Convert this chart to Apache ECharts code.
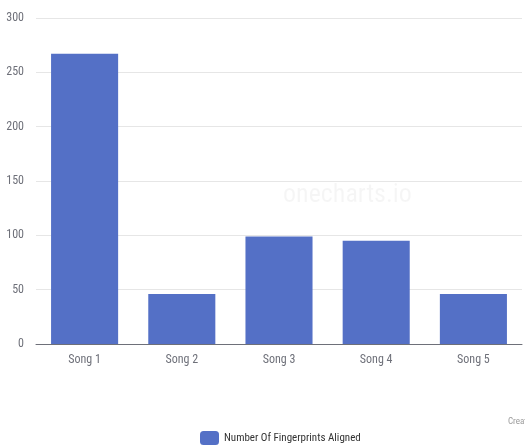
<!DOCTYPE html>
<html>
<head>
<meta charset="utf-8">
<script src="https://cdn.jsdelivr.net/npm/echarts@6/dist/echarts.min.js"></script>
<style>
  html, body { margin: 0; padding: 0; background: #fff; }
  #myChart { width: 525px; height: 446px; }
</style>
</head>
<body>
<div id="myChart"></div>
<script>
const songs = ["Song 1", "Song 2", "Song 3", "Song 4", "Song 5"];
const fingerprints = [267, 46, 99, 95, 46];
const seriesName = "Number Of Fingerprints Aligned";

const font = "'Liberation Sans Narrow', 'Roboto Condensed', 'Liberation Sans', sans-serif";

const myChart = echarts.init(document.getElementById("myChart"));

const option = {
  textStyle: { fontFamily: font },
  graphic: [
    {
      type: "text",
      left: 283,
      top: 182,
      style: { text: "onecharts.io", fontSize: 26, fill: "rgba(0,0,0,0.04)", fontFamily: font }
    },
    {
      type: "text",
      left: 508,
      top: 417,
      style: { text: "Created with onecharts.io", fontSize: 9, fill: "#999", fontFamily: font }
    }
  ],
  grid: {
    left: 36,
    right: 3,
    top: 18,
    bottom: 102
  },
  legend: {
    top: 431,
    left: 200,
    padding: 0,
    itemWidth: 19,
    itemHeight: 14,
    itemGap: 3,
    textStyle: { color: "#333", fontSize: 11, fontFamily: font },
    data: [seriesName]
  },
  xAxis: {
    type: "category",
    data: songs,
    axisLine: { lineStyle: { color: "#6e7079" } },
    axisTick: { length: 5 },
    axisLabel: { color: "#6e7079", fontSize: 12, margin: 10 }
  },
  yAxis: {
    type: "value",
    min: 0,
    max: 300,
    interval: 50,
    axisLabel: { color: "#6e7079", fontSize: 12, margin: 12 },
    splitLine: { lineStyle: { color: "#e6e6e6" } }
  },
  series: [
    {
      name: seriesName,
      type: "bar",
      data: fingerprints,
      barWidth: "69%",
      itemStyle: { color: "#5470c6" }
    }
  ]
};

myChart.setOption(option);
</script>
</body>
</html>
